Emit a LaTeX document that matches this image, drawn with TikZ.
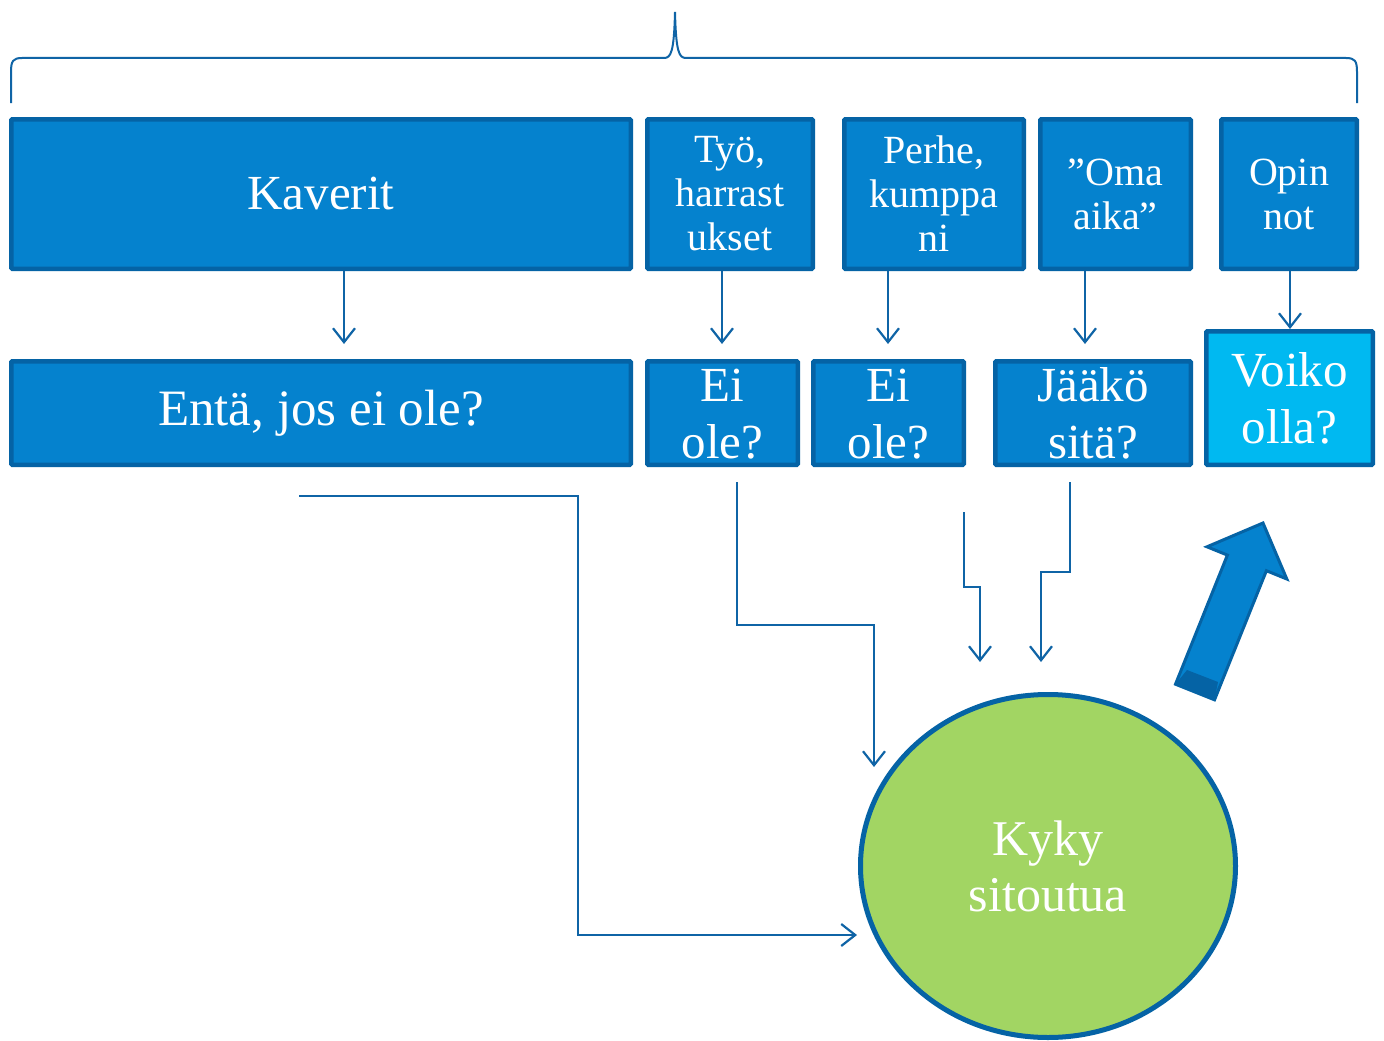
\documentclass[tikz,border=0pt]{standalone}
\usepackage{fontspec}
\setmainfont{Liberation Serif}
\usetikzlibrary{arrows.meta,shapes.geometric}
\definecolor{boxfill}{HTML}{0582CE}
\definecolor{boxline}{HTML}{0563A5}
\definecolor{lightbox}{HTML}{00B9F1}
\definecolor{connc}{HTML}{0F64A6}
\definecolor{kgreen}{HTML}{A2D563}
\newcommand{\twoline}[2]{\raisebox{-12pt}[0pt][0pt]{\begin{tabular}{@{}c@{}}#1\\#2\end{tabular}}}
\begin{document}
\begin{tikzpicture}[x=1pt,y=-1pt,
  bx/.style={draw=boxline, fill=boxfill, line width=4.5pt, text=white, inner sep=0pt, align=center, rounded corners=1pt},
  bigtxt/.style={font=\fontsize{49}{57}\selectfont},
  smalltxt/.style={font=\fontsize{40}{44}\selectfont},
  conn/.style={draw=connc, line width=2.2pt, -{Straight Barb[length=14pt,width=22pt]}},
  plain/.style={draw=connc, line width=2.2pt}
]
\useasboundingbox[fill=white] (0,0) rectangle (1384,1041);

% brace
\draw[plain, line width=2pt] (11,103) -- (11,72) .. controls (11,61) and (13,58) .. (22,58) -- (664,58)
  .. controls (671,58) and (674,52) .. (675,12)
  .. controls (676,52) and (679,58) .. (686,58) -- (1346,58)
  .. controls (1355,58) and (1357,61) .. (1357,72) -- (1357,103);

% row 1
\node[bx, bigtxt, minimum width=619.5, minimum height=149.5] (kav) at (321,194) {Kaverit};
\node[bx, smalltxt, minimum width=165.5, minimum height=149.5] (tyo) at (730,194) {Työ,\\harrast\\ukset};
\node[bx, smalltxt, minimum width=179.5, minimum height=149.5] (perhe) at (934,194) {Perhe,\\kumppa\\ni};
\node[bx, smalltxt, minimum width=150.5, minimum height=149.5] (oma) at (1115.5,194) {”Oma\\aika”};
\node[bx, smalltxt, minimum width=135.5, minimum height=149.5] (opin) at (1289,194) {Opin\\not};

% row 2
\node[bx, font=\fontsize{51}{56}\selectfont, minimum width=619.5, minimum height=103.5] (enta) at (321,413) {\raisebox{-4pt}{Entä, jos ei ole?}};
\node[bx, bigtxt, minimum width=150.5, minimum height=103.5] (eia) at (722.5,413) {\twoline{Ei}{ole?}};
\node[bx, bigtxt, minimum width=150.5, minimum height=103.5] (eib) at (888.5,413) {\twoline{Ei}{ole?}};
\node[bx, bigtxt, minimum width=195.5, minimum height=103.5] (jaako) at (1093,413) {\twoline{Jääkö}{sitä?}};
\node[bx, bigtxt, fill=lightbox, minimum width=166.5, minimum height=133.5] (voiko) at (1289.5,398) {Voiko\\olla?};

% circle
\node[ellipse, draw=boxline, fill=kgreen, line width=5pt, minimum width=375, minimum height=343, inner sep=0pt,
      text=white, align=center, font=\fontsize{50}{56}\selectfont] (kyky) at (1048,866) {Kyky\\sitoutua};

% row1 -> row2 arrows
\draw[conn] ([xshift=23pt]kav.south) -- ++(0,73);
\draw[conn] ([xshift=-8pt]tyo.south) -- ++(0,73);
\draw[conn] ([xshift=-46pt]perhe.south) -- ++(0,73);
\draw[conn] ([xshift=-30.5pt]oma.south) -- ++(0,73);
\draw[conn] ([xshift=1pt]opin.south) -- ([xshift=0.5pt]voiko.north);

% lower connectors
\coordinate (s1) at (299,496);
\coordinate (e1) at (857,935);
\coordinate (s2) at (737,482);
\coordinate (e2) at (874,767);
\coordinate (s3) at (964,512);
\coordinate (e3) at (980,662);
\coordinate (s4) at (1070,482);
\coordinate (e4) at (1041,662);
\draw[conn] (s1) -- (578,496) -- (578,935) -- (e1);
\draw[conn] (s2) -- (737,625) -- (874,625) -- (e2);
\draw[conn] (s3) -- (964,587) -- (980,587) -- (e3);
\draw[conn] (s4) -- (1070,572) -- (1041,572) -- (e4);

% big block arrow
\draw[draw=boxline, fill=boxfill, line width=3pt, line join=miter]
  (1175.5,684.2) -- (1227.4,555.1) -- (1207,546.8) -- (1263,523) -- (1286.8,579) -- (1266.4,570.7)
  -- (1214.5,699.8) -- cycle;
\fill[boxline] (1175.5,684.2) -- (1214.5,699.8) -- (1218,682) -- (1187,670) -- cycle;
\end{tikzpicture}
\end{document}
